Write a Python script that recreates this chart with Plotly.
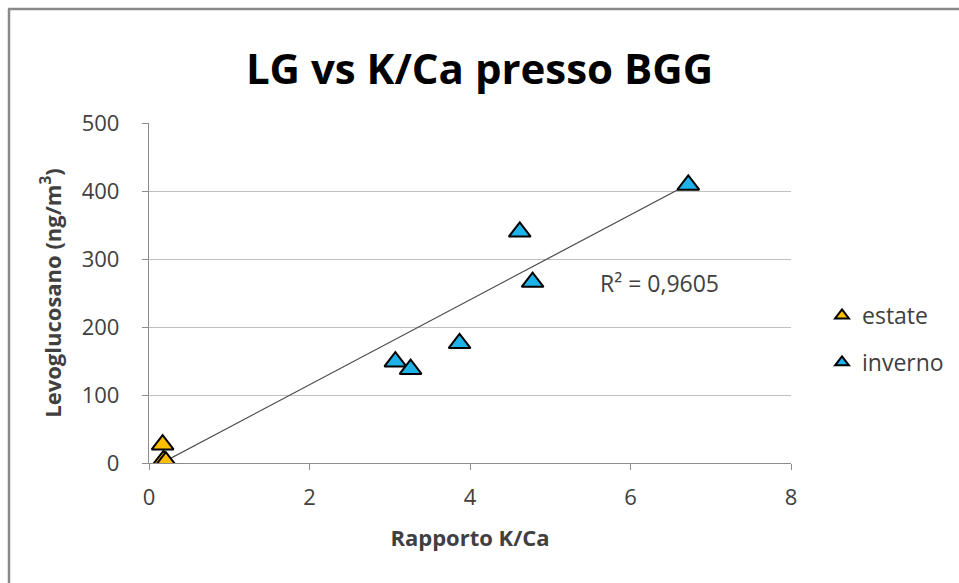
import numpy as np
import plotly.graph_objects as go

# --- data ---
estate_x = [0.17, 0.18, 0.21]
estate_y = [27, 4, 2]
inverno_x = [3.07, 3.26, 3.87, 4.62, 4.78, 6.72]
inverno_y = [149, 138, 176, 340, 266, 409]
trend_slope = 62.5      # linear trendline as drawn in the picture
trend_intercept = -10.0
r2_label = "R² = 0,9605"
x_ticks = [0, 2, 4, 6, 8]
y_ticks = [0, 100, 200, 300, 400, 500]

all_x = np.array(estate_x + inverno_x)
tx = np.array([all_x.min(), all_x.max()])
ty = trend_slope * tx + trend_intercept

FONT = "Open Sans"
W, H = 959, 583
L, R, T, B = 149, 168, 123, 120
pw, ph = W - L - R, H - T - B

def px(x):
    return (x - L) / pw

def py(y):
    return (H - B - y) / ph

fig = go.Figure()
fig.add_trace(go.Scatter(x=tx, y=ty, mode="lines", line=dict(color="#4a4a4a", width=1.2),
                         showlegend=False, hoverinfo="skip"))
fig.add_trace(go.Scatter(x=estate_x, y=estate_y, mode="markers", name="estate", legendgroup="a",
                         marker=dict(symbol="triangle-up", size=19, color="#FFBE00",
                                     line=dict(color="#000000", width=2))))
fig.add_trace(go.Scatter(x=inverno_x, y=inverno_y, mode="markers", name="inverno", legendgroup="b",
                         marker=dict(symbol="triangle-up", size=19, color="#1FB2E8",
                                     line=dict(color="#000000", width=2))))

fig.update_layout(
    width=W, height=H,
    margin=dict(l=L, r=R, t=T, b=B, autoexpand=False),
    paper_bgcolor="white", plot_bgcolor="white",
    font=dict(family=FONT, color="#404040"),
    title=dict(text="<b>LG vs K/Ca presso BGG</b>", x=px(479.5), xref="paper", xanchor="center",
               y=1 - 69 / H, yanchor="middle", font=dict(size=42, color="#000000", family=FONT)),
    xaxis=dict(range=[0, 8], tickvals=x_ticks, showgrid=False, zeroline=False,
               showline=True, linecolor="#8c8c8c", linewidth=1.3,
               ticks="outside", ticklen=6, tickcolor="#8c8c8c", ticklabelstandoff=8,
               tickfont=dict(size=22, color="#404040"),
               title=dict(text="<b>Rapporto K/Ca</b>", font=dict(size=22, color="#404040"), standoff=21)),
    yaxis=dict(range=[0, 500], tickvals=y_ticks, showgrid=True, gridcolor="#c0c0c0", gridwidth=1.3,
               zeroline=False, showline=True, linecolor="#8c8c8c", linewidth=1.3,
               ticks="outside", ticklen=6, tickcolor="#8c8c8c", ticklabelstandoff=18,
               tickfont=dict(size=22, color="#404040"),
               title=dict(text="<b>Levoglucosano (ng/m<sup>3</sup>)</b>", font=dict(size=22, color="#404040"),
                          standoff=14)),
    legend=dict(x=px(822), xanchor="left", y=py(294), yanchor="top",
                font=dict(size=23, color="#404040"), tracegroupgap=14,
                itemsizing="constant", bgcolor="rgba(0,0,0,0)"),
    annotations=[dict(text=r2_label, x=px(598), y=py(283), xref="paper", yref="paper",
                      xanchor="left", yanchor="middle", showarrow=False,
                      font=dict(size=23, color="#404040"))],
    shapes=[
        dict(type="line", xref="paper", yref="paper", x0=px(9), x1=px(9), y0=py(9), y1=py(600),
             line=dict(color="#8a8a8a", width=2.5)),
        dict(type="line", xref="paper", yref="paper", x0=px(8), x1=px(970), y0=py(9), y1=py(9),
             line=dict(color="#8a8a8a", width=2.5)),
    ],
)
fig.write_html("out.html")
